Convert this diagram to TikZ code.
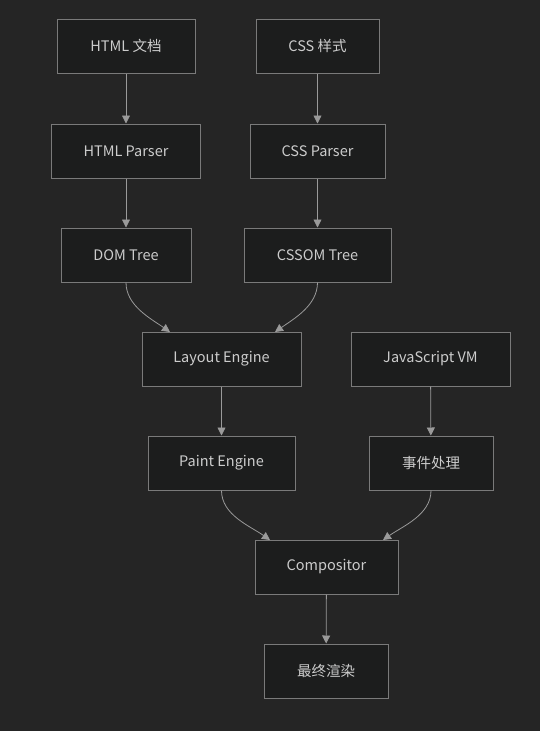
\documentclass[tikz,border=0pt]{standalone}
\usepackage{fontspec}
\setmainfont{Noto Sans CJK SC}
\usetikzlibrary{arrows.meta, positioning, calc}

\definecolor{bgdark}{HTML}{252525}
\definecolor{boxfill}{HTML}{1C1D1D}
\definecolor{boxline}{HTML}{7A7A7A}
\definecolor{boxtext}{HTML}{CCCCCC}
\definecolor{flowcol}{HTML}{9A9A9A}

\begin{document}
\begin{tikzpicture}[
    x=1pt, y=1pt,
    every node/.style={font=\fontsize{14.5}{16}\selectfont, text=boxtext},
    stage/.style={draw=boxline, fill=boxfill, line width=1pt, minimum height=54pt, inner sep=0pt},
    flow/.style={draw=flowcol, line width=0.8pt, -{Triangle[length=8pt, width=8pt]}},
]

% background and page size
\fill[bgdark] (0,0) rectangle (540,-731);

% =========================================================
% 1. Inputs and parsers
% =========================================================
\node[stage, minimum width=138pt] (html) at (126,-46) {HTML 文档};
\node[stage, minimum width=123pt] (css) at (317.5,-46) {CSS 样式};

\node[stage, minimum width=149pt] (htmlparser) at (126,-151) {HTML Parser};
\node[stage, minimum width=135pt] (cssparser) at (317.5,-151) {CSS Parser};

\node[stage, minimum width=130pt] (dom) at (126,-255) {DOM Tree};
\node[stage, minimum width=147pt] (cssom) at (317.5,-255) {CSSOM Tree};

% =========================================================
% 2. Layout, paint and scripting
% =========================================================
\node[stage, minimum width=159pt] (layout) at (221.5,-359) {Layout Engine};
\node[stage, minimum width=159pt] (jsvm) at (430.5,-359) {JavaScript VM};

\node[stage, minimum width=147pt] (paint) at (221.5,-463) {Paint Engine};
\node[stage, minimum width=124pt] (events) at (431,-463) {事件处理};

% =========================================================
% 3. Output
% =========================================================
\node[stage, minimum width=143pt] (compositor) at (326.5,-567) {Compositor};
\node[stage, minimum width=124pt] (render) at (326,-671) {最终渲染};

% entry points on the merging boxes
\coordinate (layin1) at (170,-332);
\coordinate (layin2) at (275,-332);
\coordinate (compin1) at (270,-540);
\coordinate (compin2) at (383,-540);

% Straight edges
\draw[flow] (html) -- (htmlparser);
\draw[flow] (css) -- (cssparser);
\draw[flow] (htmlparser) -- (dom);
\draw[flow] (cssparser) -- (cssom);
\draw[flow] (layout) -- (paint);
\draw[flow] (jsvm) -- (events);
\draw[flow] (compositor) -- (render);

% Curved merges
\draw[flow] (dom.south) to[out=-90, in=145, looseness=0.9] (layin1);
\draw[flow] (cssom.south) to[out=-90, in=35, looseness=0.9] (layin2);
\draw[flow] (paint.south) to[out=-90, in=145, looseness=0.9] (compin1);
\draw[flow] (events.south) to[out=-90, in=35, looseness=0.9] (compin2);

\end{tikzpicture}
\end{document}
